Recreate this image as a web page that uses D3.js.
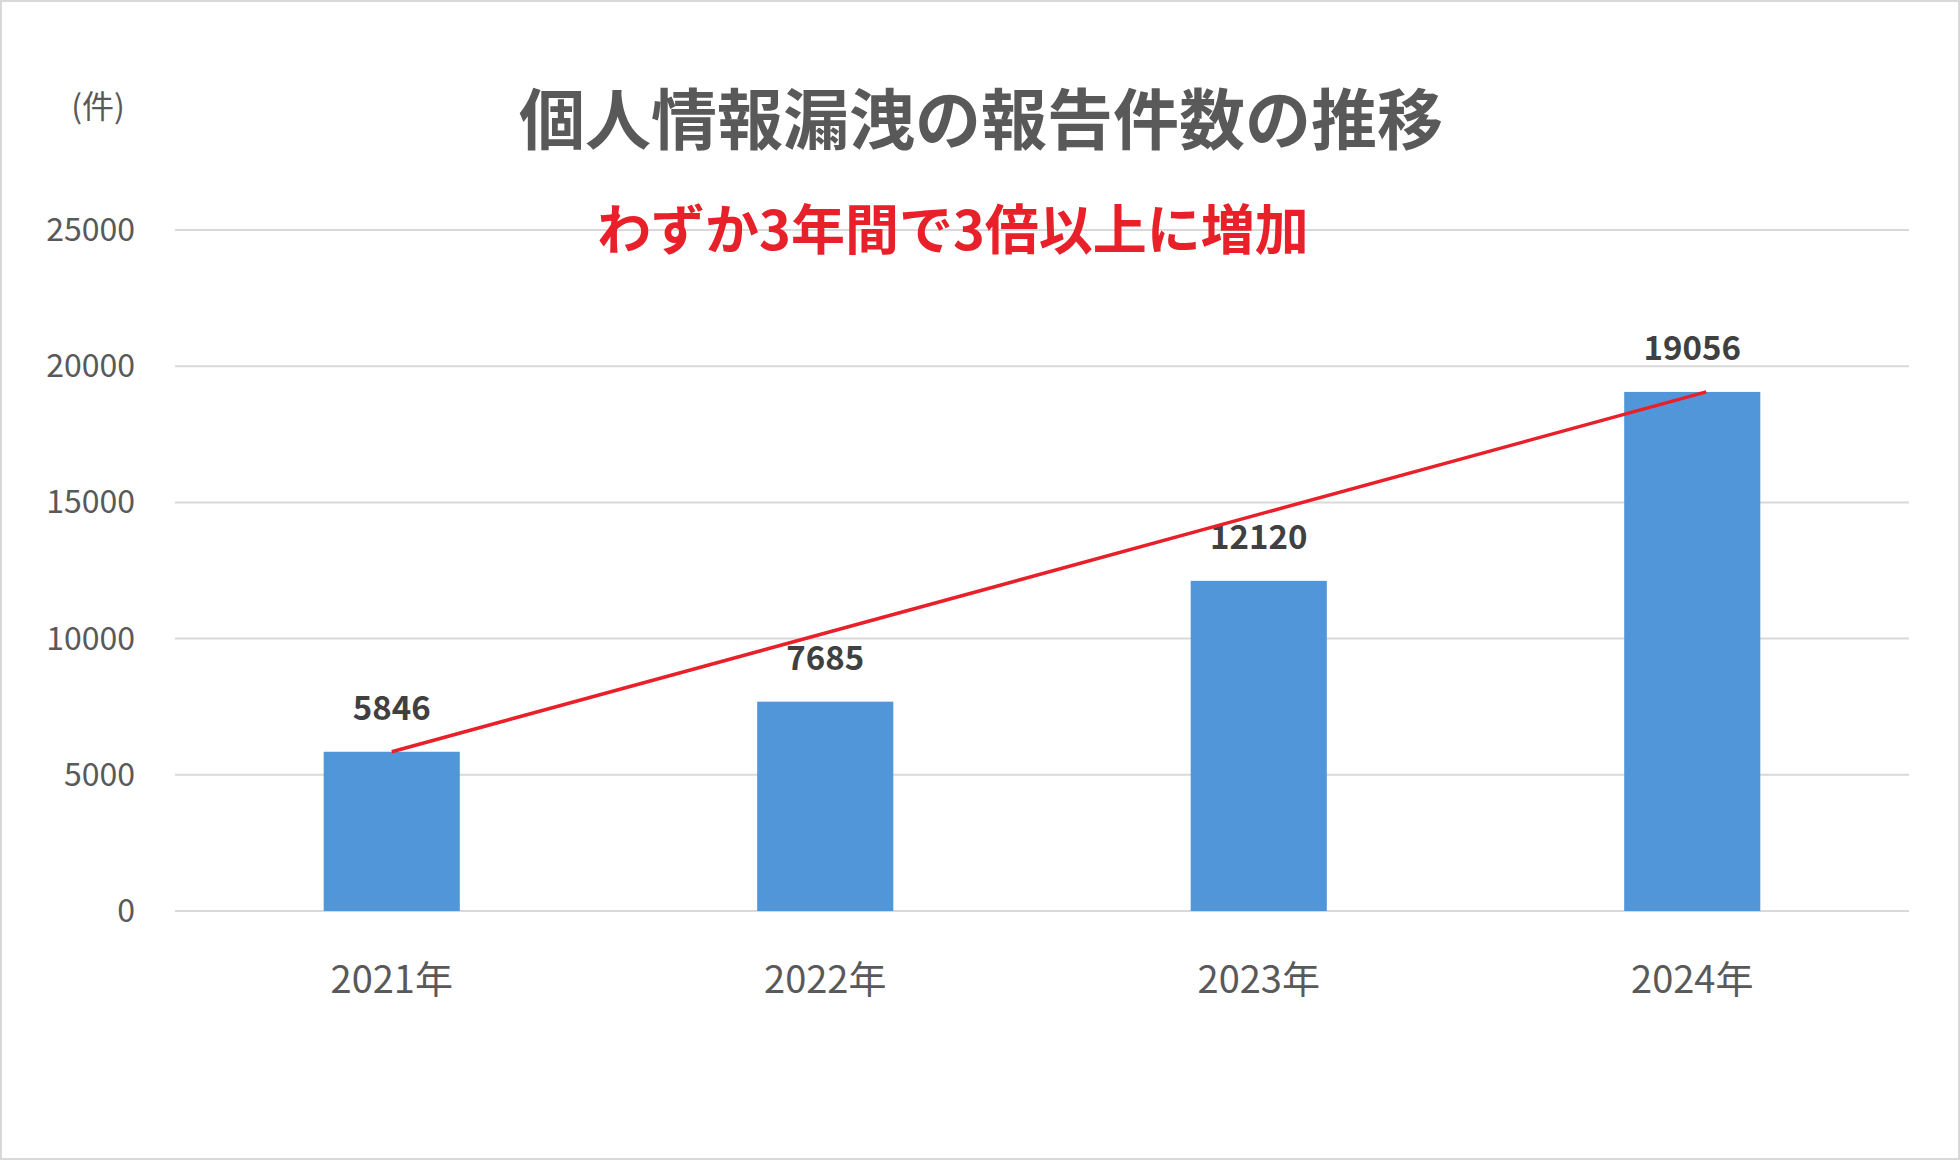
<!DOCTYPE html>
<html><head><meta charset="utf-8">
<script src="https://cdn.jsdelivr.net/npm/d3@7"></script>
<style>body{margin:0;background:#fff}</style></head>
<body><svg id="c" width="1960" height="1160"></svg>
<script>
const categories = ["2021年","2022年","2023年","2024年"];
const values = [5846, 7685, 12120, 19056];
const yTicks = [0,5000,10000,15000,20000,25000];
const title = "個人情報漏洩の報告件数の推移";
const subtitle = "わずか3年間で3倍以上に増加";
const unit = "(件)";

const svg = d3.select("#c");
const font = "'Noto Sans CJK JP','Noto Sans',sans-serif";
svg.append("rect").attr("x",1).attr("y",1).attr("width",1958).attr("height",1158)
  .attr("fill","#fff").attr("stroke","#d9d9d9").attr("stroke-width",2);
const L=175,R=1909,T=230,B=911;
const x=d3.scaleBand().domain(categories).range([L,R]).paddingInner(0.686).paddingOuter(0.343);
const y=d3.scaleLinear().domain([0,25000]).range([B,T]);
svg.append("g").selectAll("line").data(yTicks).join("line")
  .attr("x1",L).attr("x2",R).attr("y1",d=>y(d)).attr("y2",d=>y(d))
  .attr("stroke","#d9d9d9").attr("stroke-width",2);
svg.append("g").selectAll("text").data(yTicks).join("text")
  .attr("x",135).attr("y",d=>y(d)+11).attr("text-anchor","end")
  .attr("font-family",font).attr("font-size",32).attr("fill","#595959").text(d=>d);
svg.append("g").selectAll("rect").data(values).join("rect")
  .attr("x",(d,i)=>x(categories[i])).attr("width",x.bandwidth())
  .attr("y",d=>y(d)).attr("height",d=>B-y(d)).attr("fill","#5196d9");
svg.append("g").selectAll("text").data(values).join("text")
  .attr("x",(d,i)=>x(categories[i])+x.bandwidth()/2).attr("y",d=>y(d)-32)
  .attr("text-anchor","middle").attr("font-family",font).attr("font-weight","bold")
  .attr("font-size",33).attr("fill","#404040").text(d=>d);
svg.append("g").selectAll("text").data(categories).join("text")
  .attr("x",d=>x(d)+x.bandwidth()/2).attr("y",993).attr("text-anchor","middle")
  .attr("font-family",font).attr("font-size",38).attr("fill","#595959").text(d=>d);
const c0=x(categories[0])+x.bandwidth()/2, c3=x(categories[3])+x.bandwidth()/2+14;
svg.append("line").attr("x1",c0).attr("y1",y(values[0])).attr("x2",c3).attr("y2",y(values[3]))
  .attr("stroke","#e8202a").attr("stroke-width",3.5);
svg.append("text").attr("x",981).attr("y",144).attr("text-anchor","middle")
  .attr("font-family",font).attr("font-weight","bold").attr("font-size",66).attr("fill","#595959").text(title);
svg.append("text").attr("x",953).attr("y",250).attr("text-anchor","middle")
  .attr("font-family",font).attr("font-weight","bold").attr("font-size",54).attr("fill","#e8202a").text(subtitle);
svg.append("text").attr("x",98).attr("y",118).attr("text-anchor","middle")
  .attr("font-family",font).attr("font-size",32).attr("fill","#595959").text(unit);
</script></body></html>
